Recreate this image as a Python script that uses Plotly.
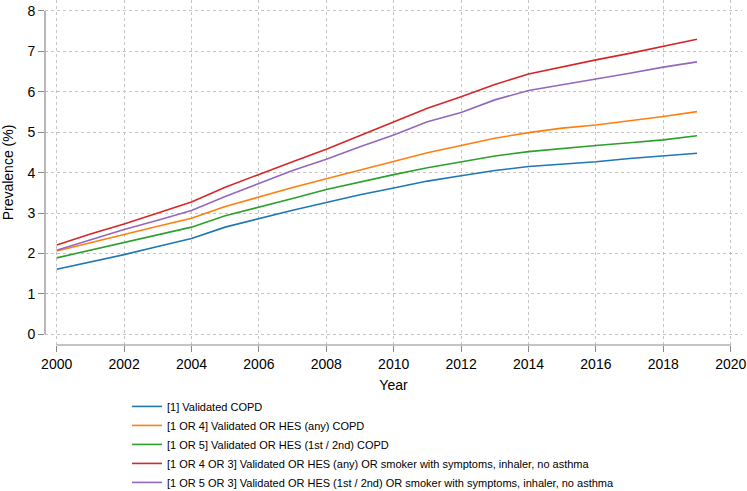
import plotly.graph_objects as go

years = list(range(2000, 2020))

validated = [1.61, 1.79, 1.97, 2.17, 2.37, 2.65, 2.86, 3.07, 3.26, 3.45, 3.62, 3.79, 3.92, 4.05, 4.15, 4.21, 4.27, 4.35, 4.42, 4.48]
hes_any = [2.06, 2.27, 2.47, 2.67, 2.87, 3.16, 3.40, 3.63, 3.85, 4.06, 4.27, 4.49, 4.67, 4.85, 4.99, 5.10, 5.18, 5.28, 5.39, 5.51]
hes_12 = [1.89, 2.08, 2.26, 2.46, 2.65, 2.93, 3.14, 3.36, 3.58, 3.77, 3.95, 4.12, 4.27, 4.41, 4.52, 4.60, 4.67, 4.74, 4.81, 4.91]
hes_any_symp = [2.21, 2.48, 2.73, 3.00, 3.27, 3.64, 3.96, 4.27, 4.58, 4.91, 5.26, 5.59, 5.88, 6.18, 6.44, 6.62, 6.79, 6.95, 7.12, 7.30]
hes_12_symp = [2.08, 2.34, 2.59, 2.82, 3.06, 3.41, 3.74, 4.05, 4.33, 4.64, 4.93, 5.26, 5.49, 5.80, 6.03, 6.17, 6.31, 6.46, 6.61, 6.74]

series = [
    ("[1] Validated COPD", validated, "#1f77b4"),
    ("[1 OR 4] Validated OR HES (any) COPD", hes_any, "#ff7f0e"),
    ("[1 OR 5] Validated OR HES (1st / 2nd) COPD", hes_12, "#2ca02c"),
    ("[1 OR 4 OR 3] Validated OR HES (any) OR smoker with symptoms, inhaler, no asthma", hes_any_symp, "#d62728"),
    ("[1 OR 5 OR 3] Validated OR HES (1st / 2nd) OR smoker with symptoms, inhaler, no asthma", hes_12_symp, "#9467bd"),
]

x_ticks = list(range(2000, 2021, 2))
y_ticks = list(range(0, 9))

fig = go.Figure()
for name, vals, color in series:
    fig.add_trace(go.Scatter(x=years, y=vals, mode="lines", name=name,
                             line=dict(color=color, width=1.6)))

axis_color = "#8a8a8a"
grid_color = "#c4c4c4"
fig.update_layout(
    width=747, height=491,
    margin=dict(l=45, r=5, t=0, b=146, autoexpand=False),
    paper_bgcolor="white", plot_bgcolor="white",
    font=dict(family="Liberation Sans, Arial, sans-serif", color="black"),
    showlegend=True,
    legend=dict(orientation="v", x=0.1177, y=-0.136, xanchor="left", yanchor="top",
                font=dict(size=11), itemwidth=30, tracegroupgap=0,
                bgcolor="rgba(0,0,0,0)"),
    xaxis=dict(range=[1999.653, 2020.335], tickvals=x_ticks, ticks="outside",
               ticklen=6, tickcolor=axis_color, tickwidth=1,
               showline=False, zeroline=False, automargin=False,
               ticklabeloverflow="allow",
               showgrid=True, gridcolor=grid_color, griddash="dot", gridwidth=1,
               tickfont=dict(size=14),
               title=dict(text="Year", font=dict(size=14), standoff=9)),
    yaxis=dict(range=[-0.267, 8.272], tickvals=y_ticks, ticks="outside",
               ticklen=6, tickcolor=axis_color, tickwidth=1,
               showline=False, zeroline=False, automargin=False,
               showgrid=True, gridcolor=grid_color, griddash="dot", gridwidth=1,
               tickfont=dict(size=14),
               title=dict(text="Prevalence (%)", font=dict(size=14), standoff=12)),
)

fig.add_shape(type="line", xref="x", yref="paper", x0=x_ticks[0], x1=x_ticks[-1], y0=0, y1=0,
              line=dict(color=axis_color, width=1.2))
fig.add_shape(type="line", xref="paper", yref="y", x0=0, x1=0, y0=y_ticks[0], y1=y_ticks[-1],
              line=dict(color=axis_color, width=1.2))

fig.write_html("out.html", config={"displayModeBar": False},
               post_script="document.body.style.margin='0px';document.body.style.overflow='hidden';")
